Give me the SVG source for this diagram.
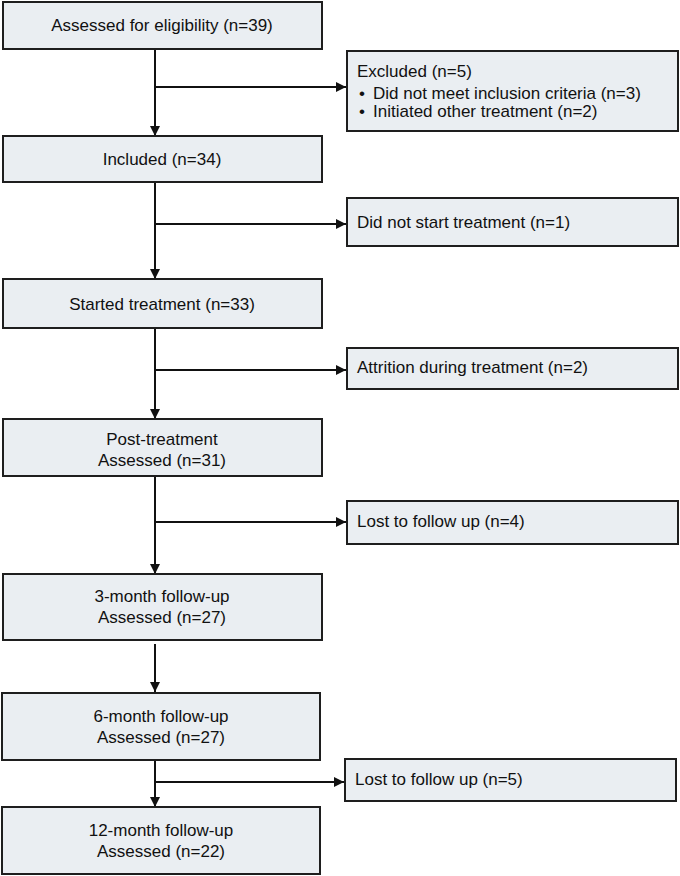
<svg xmlns="http://www.w3.org/2000/svg" width="680" height="876" viewBox="0 0 680 876">
<style>
.box{fill:#eaeef2;stroke:#1e1e1e;stroke-width:2}
.t{font-family:"Liberation Sans",Arial,sans-serif;font-size:17px;fill:#111}
.c{text-anchor:middle}
.ln{stroke:#111;stroke-width:2;fill:none}
.ar{marker-end:url(#ah)}
</style>
<defs>
<marker id="ah" viewBox="0 0 10 10" refX="10" refY="5" markerWidth="10" markerHeight="10" markerUnits="userSpaceOnUse" orient="auto">
<path d="M0,0 L10,5 L0,10 z" fill="#111"/>
</marker>
</defs>
<rect width="680" height="876" fill="#fff"/>
<g id="connectors">
<line class="ln ar" x1="155" y1="49" x2="155" y2="136"/>
<line class="ln ar" x1="155" y1="87" x2="346" y2="87"/>
<line class="ln ar" x1="155" y1="182" x2="155" y2="279"/>
<line class="ln ar" x1="155" y1="224" x2="346" y2="224"/>
<line class="ln ar" x1="155" y1="328" x2="155" y2="419"/>
<line class="ln ar" x1="155" y1="370" x2="346" y2="370"/>
<line class="ln ar" x1="155" y1="476" x2="155" y2="574"/>
<line class="ln ar" x1="155" y1="522" x2="346" y2="522"/>
<line class="ln ar" x1="155" y1="644" x2="155" y2="692"/>
<line class="ln ar" x1="155" y1="760" x2="155" y2="807"/>
<line class="ln ar" x1="155" y1="782" x2="344" y2="782"/>
</g>
<g id="n1"><rect class="box" x="3" y="2" width="319" height="47"/><text class="t c" x="162" y="31">Assessed for eligibility (n=39)</text></g>
<g id="n2"><rect class="box" x="3" y="136" width="319" height="46"/><text class="t c" x="162" y="165">Included (n=34)</text></g>
<g id="n3"><rect class="box" x="3" y="279" width="319" height="49"/><text class="t c" x="162" y="310">Started treatment (n=33)</text></g>
<g id="n4"><rect class="box" x="3" y="419" width="319" height="57"/><text class="t c" x="162" y="445">Post-treatment</text><text class="t c" x="162" y="466">Assessed (n=31)</text></g>
<g id="n5"><rect class="box" x="3" y="574" width="319" height="66"/><text class="t c" x="162" y="602">3-month follow-up</text><text class="t c" x="162" y="623">Assessed (n=27)</text></g>
<g id="n6"><rect class="box" x="2" y="693" width="318" height="67"/><text class="t c" x="161" y="722">6-month follow-up</text><text class="t c" x="161" y="743">Assessed (n=27)</text></g>
<g id="n7"><rect class="box" x="2" y="807" width="318" height="67"/><text class="t c" x="161" y="836">12-month follow-up</text><text class="t c" x="161" y="857">Assessed (n=22)</text></g>
<g id="e1"><rect class="box" x="347" y="51" width="331" height="80"/><text class="t" x="357" y="77">Excluded (n=5)</text><text class="t" x="359" y="99">•</text><text class="t" x="373" y="99">Did not meet inclusion criteria (n=3)</text><text class="t" x="359" y="117">•</text><text class="t" x="373" y="117">Initiated other treatment (n=2)</text></g>
<g id="e2"><rect class="box" x="347" y="198" width="331" height="48"/><text class="t" x="357" y="228">Did not start treatment (n=1)</text></g>
<g id="e3"><rect class="box" x="347" y="348" width="331" height="41"/><text class="t" x="357" y="373">Attrition during treatment (n=2)</text></g>
<g id="e4"><rect class="box" x="347" y="501" width="331" height="43"/><text class="t" x="357" y="527">Lost to follow up (n=4)</text></g>
<g id="e5"><rect class="box" x="345" y="759" width="331" height="42"/><text class="t" x="355" y="785">Lost to follow up (n=5)</text></g>
</svg>
